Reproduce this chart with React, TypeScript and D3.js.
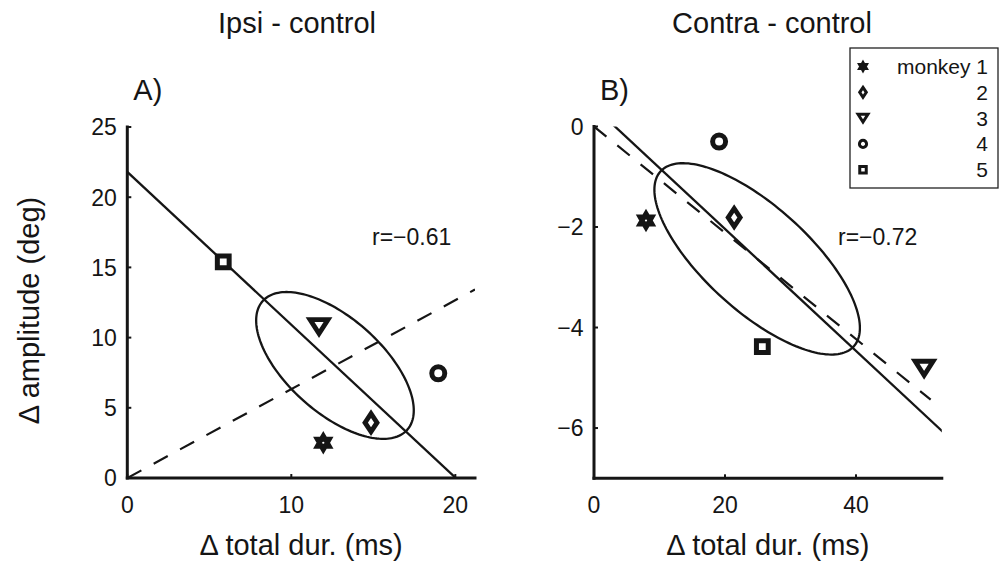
import React from "react";
import * as d3 from "d3";

// ---------- data ----------
const legendLabels = ["monkey 1", "2", "3", "4", "5"];
const markerTypes = ["hexagram", "diamond", "triangle", "circle", "square"];

const ipsiDur = [11.95, 14.86, 11.69, 18.96, 5.85];
const ipsiAmp = [2.51, 3.94, 10.78, 7.46, 15.4];
const contraDur = [7.94, 21.4, 50.4, 19.1, 25.7];
const contraAmp = [-1.87, -1.81, -4.81, -0.3, -4.38];

const ipsiXTicks = [0, 10, 20];
const ipsiYTicks = [0, 5, 10, 15, 20, 25];
const contraXTicks = [0, 20, 40];
const contraYTicks = [0, -2, -4, -6];

const ipsiXDomain: [number, number] = [0, 21.2];
const ipsiYDomain: [number, number] = [0, 25];
const contraXDomain: [number, number] = [0, 53.1];
const contraYDomain: [number, number] = [-7, 0];

const dashedEnd = [21.2, 51.4];
const titles = ["Ipsi - control", "Contra - control"];
const panelLabels = ["A)", "B)"];
const xLabel = "\u0394 total dur. (ms)";
const yLabel = "\u0394 amplitude (deg)";

const FONT = "'Liberation Sans', Arial, Helvetica, sans-serif";
const INK = "#151515";

// ---------- helpers ----------
function stats(xs: number[], ys: number[]) {
  const mx = d3.mean(xs) as number;
  const my = d3.mean(ys) as number;
  const sx = d3.deviation(xs) as number;
  const sy = d3.deviation(ys) as number;
  const cov = d3.sum(xs.map((x, i) => (x - mx) * (ys[i] - my))) / (xs.length - 1);
  const r = cov / (sx * sy);
  return { mx, my, sx, sy, r };
}

function markerPath(type: string, s: number): string {
  switch (type) {
    case "square": {
      const h = 5.9 * s;
      return `M${-h},${-h}H${h}V${h}H${-h}Z`;
    }
    case "circle": {
      const r = 6.5 * s;
      return `M${r},0A${r},${r} 0 1,1 ${-r},0A${r},${r} 0 1,1 ${r},0Z`;
    }
    case "diamond": {
      const w = 6 * s, h = 9 * s;
      return `M0,${-h}L${w},0L0,${h}L${-w},0Z`;
    }
    case "triangle": {
      const a = 9 * s, b = 7 * s;
      return `M${-a},${-b}L${a},${-b}L0,${b}Z`;
    }
    default: {
      const R = 9.8 * s, r = R / Math.sqrt(3);
      const pts = d3.range(12).map((i) => {
        const ang = -Math.PI / 2 + (i * Math.PI) / 6;
        const rad = i % 2 === 0 ? R : r;
        return [rad * Math.cos(ang), rad * Math.sin(ang)];
      });
      return "M" + pts.map((p) => p.join(",")).join("L") + "Z";
    }
  }
}

function strokeFor(type: string, legend: boolean) {
  if (legend) return type === "hexagram" ? 1.5 : 3;
  if (type === "square" || type === "circle") return 5;
  if (type === "hexagram") return 2;
  return 4.8;
}

type PanelProps = {
  idx: number;
  xs: number[];
  ys: number[];
  xDomain: [number, number];
  yDomain: [number, number];
  xRange: [number, number];
  yRange: [number, number];
  xTicks: number[];
  yTicks: number[];
  rPos: [number, number];
  titleX: number;
  showYLabel: boolean;
};

const fmtTick = d3.format("");
const fmtR = d3.format(".2f");

function Marker({ type, cx, cy, s, legend }: { type: string; cx: number; cy: number; s: number; legend: boolean }) {
  const filled = type === "hexagram";
  return (
    <g transform={`translate(${cx},${cy})`}>
      <path
        d={markerPath(type, s)}
        fill={filled ? INK : "#fff"}
        stroke={INK}
        strokeWidth={strokeFor(type, legend)}
        strokeLinejoin="miter"
      />
      {filled && !legend && <circle r={1.1} fill="#fff" />}
    </g>
  );
}

function Panel(p: PanelProps) {
  const x = d3.scaleLinear().domain(p.xDomain).range(p.xRange);
  const y = d3.scaleLinear().domain(p.yDomain).range(p.yRange);
  const st = stats(p.xs, p.ys);
  const clipId = `clip-${p.idx}`;

  // reduced major axis line through the mean
  const slope = Math.sign(st.r) * (st.sy / st.sx);
  const solidD = d3.line<number>()
    .x((d) => x(d))
    .y((d) => y(st.my + slope * (d - st.mx)))([p.xDomain[0] - 5, p.xDomain[1] + 5]) as string;

  // dashed line through origin and mean point
  const ratio = st.my / st.mx;
  const dashD = d3.line<number>()
    .x((d) => x(d))
    .y((d) => y(ratio * d))([0, dashedEnd[p.idx]]) as string;

  // 1-SD covariance ellipse
  const k = Math.sqrt(1 - st.r * st.r);
  const ellD = d3.line<number>()
    .x((t) => x(st.mx + st.sx * Math.cos(t)))
    .y((t) => y(st.my + st.sy * (st.r * Math.cos(t) + k * Math.sin(t))))
    .curve(d3.curveLinearClosed)(d3.range(0, 2 * Math.PI, Math.PI / 90)) as string;

  const [x0, x1] = p.xRange;
  const [yb, yt] = p.yRange;

  return (
    <g>
      <defs>
        <clipPath id={clipId}>
          <rect x={x0} y={yt} width={x1 - x0} height={yb - yt} />
        </clipPath>
      </defs>
      <text x={p.titleX} y={33} fontSize={29} textAnchor="middle" fontFamily={FONT} fill={INK}>
        {titles[p.idx]}
      </text>
      <text x={x0 + 6} y={100} fontSize={29} fontFamily={FONT} fill={INK}>
        {panelLabels[p.idx]}
      </text>

      <g clipPath={`url(#${clipId})`}>
        <path d={solidD} fill="none" stroke={INK} strokeWidth={2.3} />
        <path d={dashD} fill="none" stroke={INK} strokeWidth={2.2} strokeDasharray="16,14" />
        <path d={ellD} fill="none" stroke={INK} strokeWidth={2.3} />
      </g>

      {/* axes */}
      <line x1={x0} x2={x0} y1={yt} y2={yb} stroke={INK} strokeWidth={3} strokeLinecap="square" />
      <line x1={x0} x2={x1} y1={yb} y2={yb} stroke={INK} strokeWidth={3} strokeLinecap="square" />
      {p.xTicks.map((t) => (
        <g key={`xt${t}`}>
          <line x1={x(t)} x2={x(t)} y1={yb} y2={yb - 4} stroke={INK} strokeWidth={2} />
          <text x={x(t)} y={yb + 35} fontSize={23} textAnchor="middle" fontFamily={FONT} fill={INK}>
            {fmtTick(t)}
          </text>
        </g>
      ))}
      {p.yTicks.map((t) => (
        <g key={`yt${t}`}>
          <line x1={x0} x2={x0 + 4} y1={y(t)} y2={y(t)} stroke={INK} strokeWidth={2} />
          <text x={x0 - 10.5} y={y(t) + 8.3} fontSize={23} textAnchor="end" fontFamily={FONT} fill={INK}>
            {fmtTick(t)}
          </text>
        </g>
      ))}

      {/* markers */}
      {p.xs.map((d, i) => (
        <Marker key={`m${i}`} type={markerTypes[i]} cx={x(d)} cy={y(p.ys[i])} s={1} legend={false} />
      ))}

      <text x={p.rPos[0]} y={p.rPos[1]} fontSize={23} fontFamily={FONT} fill={INK}>
        {`r=${fmtR(st.r)}`}
      </text>

      <text x={(x0 + x1) / 2} y={555} fontSize={29} textAnchor="middle" fontFamily={FONT} fill={INK}>
        {xLabel}
      </text>
      {p.showYLabel && (
        <text
          transform={`translate(39,${(yb + yt) / 2 + 8}) rotate(-90)`}
          fontSize={29}
          textAnchor="middle"
          fontFamily={FONT}
          fill={INK}
        >
          {yLabel}
        </text>
      )}
    </g>
  );
}

function Legend() {
  const left = 850, top = 48, right = 998, bottom = 188;
  const rowY = d3.scaleLinear().domain([0, 1]).range([66.5, 92.3]);
  return (
    <g>
      <rect x={left} y={top} width={right - left} height={bottom - top} fill="#fff" stroke="#222" strokeWidth={1.3} />
      {legendLabels.map((lab, i) => (
        <g key={lab}>
          <Marker type={markerTypes[i]} cx={863} cy={rowY(i)} s={0.55} legend={true} />
          <text x={988} y={rowY(i) + 7.5} fontSize={21} textAnchor="end" fontFamily={FONT} fill={INK}>
            {lab}
          </text>
        </g>
      ))}
    </g>
  );
}

export default function App() {
  return (
    <svg
      width={1007}
      height={561}
      style={{ position: "absolute", left: 0, top: 0, background: "#fff" }}
    >
      <Panel
        idx={0}
        xs={ipsiDur}
        ys={ipsiAmp}
        xDomain={ipsiXDomain}
        yDomain={ipsiYDomain}
        xRange={[127.3, 475]}
        yRange={[478, 127]}
        xTicks={ipsiXTicks}
        yTicks={ipsiYTicks}
        rPos={[372, 245]}
        titleX={297}
        showYLabel={true}
      />
      <Panel
        idx={1}
        xs={contraDur}
        ys={contraAmp}
        xDomain={contraXDomain}
        yDomain={contraYDomain}
        xRange={[594, 941.8]}
        yRange={[478.3, 126.5]}
        xTicks={contraXTicks}
        yTicks={contraYTicks}
        rPos={[838, 245]}
        titleX={772}
        showYLabel={false}
      />
      <Legend />
    </svg>
  );
}
